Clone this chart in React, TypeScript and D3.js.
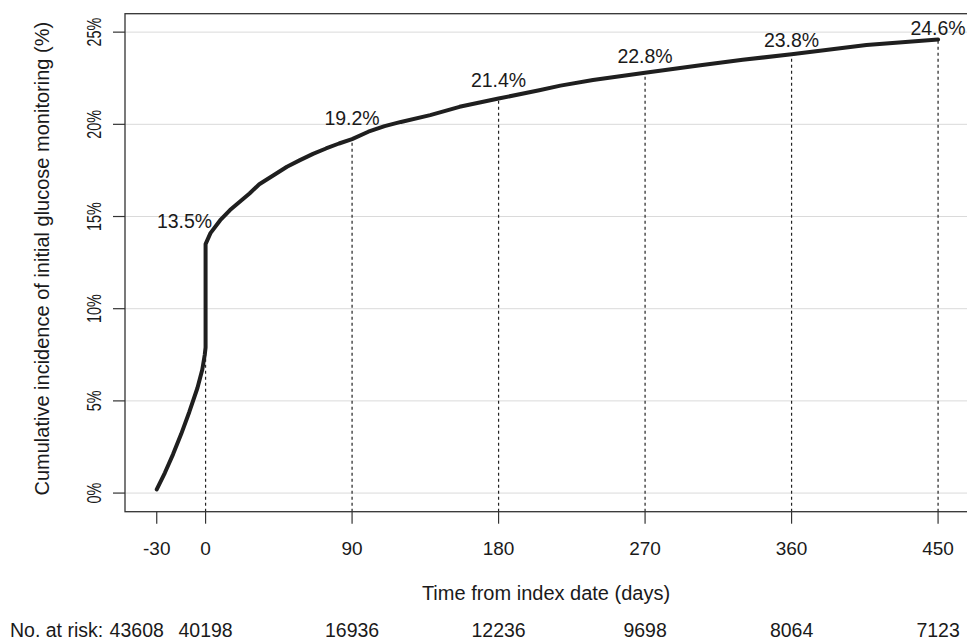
import { useRef, useEffect } from 'react';
import * as d3 from 'd3';

// cumulative incidence curve (day, %)
const curveDays = [
  -30, -25, -20, -15, -10, -5, -2, -0.5, 0, 0, 3, 9, 15, 21, 27, 33, 42, 50, 58, 66, 74, 82, 90,
  100, 110, 120, 138, 156, 180, 205, 218, 238, 270, 304, 330, 360, 406, 450,
];
const curvePct = [
  0.2, 1.1, 2.1, 3.2, 4.4, 5.7, 6.7, 7.5, 7.9, 13.5, 14.1, 14.8, 15.35, 15.8, 16.25, 16.75, 17.25,
  17.7, 18.06, 18.4, 18.69, 18.96, 19.2, 19.6, 19.9, 20.13, 20.5, 20.95, 21.4, 21.85, 22.1, 22.4,
  22.8, 23.2, 23.5, 23.8, 24.3, 24.6,
];

// marked time points
const markDays = [0, 90, 180, 270, 360, 450];
const markPct = [13.5, 19.2, 21.4, 22.8, 23.8, 24.6];

const xTicks = [-30, 0, 90, 180, 270, 360, 450];
const yTicks = [0, 5, 10, 15, 20, 25];
const atRisk = [43608, 40198, 16936, 12236, 9698, 8064, 7123];

const W = 967;
const H = 642;
const FONT = '"Liberation Sans", Arial, Helvetica, sans-serif';

function CumIncidence() {
  const svgRef = useRef<SVGSVGElement | null>(null);

  useEffect(() => {
    const svg = d3.select(svgRef.current);
    svg.selectAll('*').remove();

    const left = 125;
    const top = 13.7;
    const bottom = 511.7;

    const x = d3.scaleLinear().domain([-49.5, 469]).range([left, 969]);
    const y = d3.scaleLinear().domain([-1.01, 26.0]).range([bottom, top]);

    svg.append('rect').attr('width', W).attr('height', H).attr('fill', '#fff');

    // grid
    svg
      .selectAll('.grid')
      .data(yTicks)
      .join('line')
      .attr('x1', left)
      .attr('x2', W)
      .attr('y1', (d) => y(d))
      .attr('y2', (d) => y(d))
      .attr('stroke', '#dadada')
      .attr('stroke-width', 1);

    // dotted guides
    svg
      .selectAll('.guide')
      .data(markDays)
      .join('line')
      .attr('x1', (d) => x(d))
      .attr('x2', (d) => x(d))
      .attr('y1', bottom)
      .attr('y2', (_, i) => y(markPct[i]))
      .attr('stroke', '#222')
      .attr('stroke-width', 1.2)
      .attr('stroke-dasharray', '3,3');

    // curve
    const pts = curveDays.map((d, i) => [d, curvePct[i]] as [number, number]);
    const line = d3
      .line<[number, number]>()
      .x((d) => x(d[0]))
      .y((d) => y(d[1]));
    svg
      .append('path')
      .datum(pts)
      .attr('d', line)
      .attr('fill', 'none')
      .attr('stroke', '#1f1f1f')
      .attr('stroke-width', 4)
      .attr('stroke-linejoin', 'round')
      .attr('stroke-linecap', 'round');

    // box
    svg
      .append('rect')
      .attr('x', left)
      .attr('y', top)
      .attr('width', 980 - left)
      .attr('height', bottom - top)
      .attr('fill', 'none')
      .attr('stroke', '#333')
      .attr('stroke-width', 1.3);

    // y axis
    svg
      .selectAll('.ytick')
      .data(yTicks)
      .join('line')
      .attr('x1', left - 12)
      .attr('x2', left)
      .attr('y1', (d) => y(d))
      .attr('y2', (d) => y(d))
      .attr('stroke', '#333')
      .attr('stroke-width', 1.2);
    svg
      .selectAll('.ylab')
      .data(yTicks)
      .join('text')
      .attr('transform', (d) => `translate(100.5,${y(d)}) rotate(-90) scale(0.72,1)`)
      .attr('text-anchor', 'middle')
      .attr('font-family', FONT)
      .attr('font-size', 20)
      .attr('fill', '#1a1a1a')
      .text((d) => `${d}%`);
    svg
      .append('text')
      .attr('transform', `translate(49,${(top + bottom) / 2 - 4}) rotate(-90)`)
      .attr('text-anchor', 'middle')
      .attr('font-family', FONT)
      .attr('font-size', 20)
      .attr('fill', '#1a1a1a')
      .text('Cumulative incidence of initial glucose monitoring (%)');

    // x axis
    svg
      .selectAll('.xtick')
      .data(xTicks)
      .join('line')
      .attr('x1', (d) => x(d))
      .attr('x2', (d) => x(d))
      .attr('y1', bottom)
      .attr('y2', bottom + 12)
      .attr('stroke', '#333')
      .attr('stroke-width', 1.2);
    svg
      .selectAll('.xlab')
      .data(xTicks)
      .join('text')
      .attr('x', (d) => x(d))
      .attr('y', 555)
      .attr('text-anchor', 'middle')
      .attr('font-family', FONT)
      .attr('font-size', 19)
      .attr('fill', '#1a1a1a')
      .text((d) => d);
    svg
      .append('text')
      .attr('x', (left + W) / 2)
      .attr('y', 600)
      .attr('text-anchor', 'middle')
      .attr('font-family', FONT)
      .attr('font-size', 20)
      .attr('fill', '#1a1a1a')
      .text('Time from index date (days)');

    // number at risk
    svg
      .append('text')
      .attr('x', 10)
      .attr('y', 637)
      .attr('font-family', FONT)
      .attr('font-size', 19.5)
      .attr('fill', '#1a1a1a')
      .text('No. at risk:');
    svg
      .selectAll('.risk')
      .data(atRisk)
      .join('text')
      .attr('x', (_, i) => x(xTicks[i]) + (i === 0 ? -20 : 0))
      .attr('y', 637)
      .attr('text-anchor', 'middle')
      .attr('font-family', FONT)
      .attr('font-size', 19.5)
      .attr('fill', '#1a1a1a')
      .text((d) => d);

    // point labels
    svg
      .selectAll('.mark')
      .data(markDays)
      .join('text')
      .attr('x', (d, i) => x(d) + (i === 0 ? -21 : 0))
      .attr('y', (_, i) => y(markPct[i]) - (16 - 2.2 * i))
      .attr('text-anchor', 'middle')
      .attr('font-family', FONT)
      .attr('font-size', 19.5)
      .attr('fill', '#1a1a1a')
      .text((_, i) => `${markPct[i].toFixed(1)}%`);
  }, []);

  return <svg ref={svgRef} width={W} height={H} style={{ display: 'block' }} />;
}

export default function App() {
  return (
    <div style={{ position: 'fixed', left: 0, top: 0, width: W, height: H, overflow: 'hidden' }}>
      <CumIncidence />
    </div>
  );
}
